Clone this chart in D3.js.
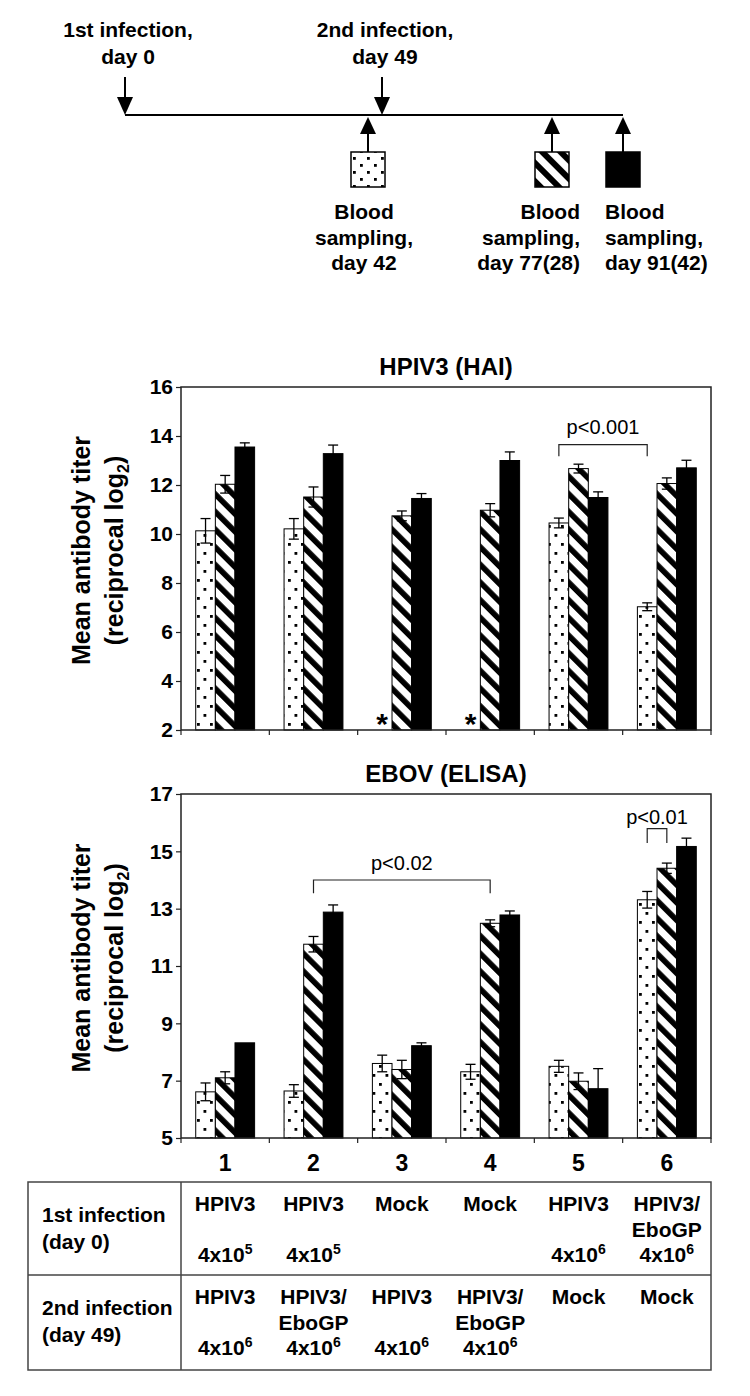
<!DOCTYPE html>
<html><head><meta charset="utf-8">
<script src="https://cdn.jsdelivr.net/npm/d3@7"></script>
<style>
body{margin:0;background:#fff}
svg{display:block;font-family:"Liberation Sans",Arial,Helvetica,sans-serif}
</style>
</head><body>
<svg id="c" width="750" height="1396"></svg>
<script>
// ---------- DATA ----------
const groups = ["1","2","3","4","5","6"];
const seriesNames = ["day 42","day 77(28)","day 91(42)"];

// HPIV3 (HAI)
const hpivDay42 = [10.13, 10.21, null, null, 10.45, 7.03];
const hpivDay42Err = [0.50, 0.42, null, null, 0.20, 0.16];
const hpivDay77 = [12.03, 11.51, 10.74, 10.97, 12.67, 12.06];
const hpivDay77Err = [0.36, 0.41, 0.20, 0.27, 0.18, 0.23];
const hpivDay91 = [13.55, 13.28, 11.45, 13.00, 11.49, 12.70];
const hpivDay91Err = [0.17, 0.35, 0.20, 0.35, 0.23, 0.31];
const hpivTicks = [2,4,6,8,10,12,14,16];

// EBOV (ELISA)
const eboDay42 = [6.61, 6.64, 7.60, 7.31, 7.50, 13.31];
const eboDay42Err = [0.31, 0.22, 0.29, 0.26, 0.21, 0.29];
const eboDay77 = [7.10, 11.76, 7.39, 12.49, 6.98, 14.41];
const eboDay77Err = [0.21, 0.27, 0.32, 0.12, 0.29, 0.18];
const eboDay91 = [8.32, 12.88, 8.22, 12.78, 6.72, 15.17];
const eboDay91Err = [0, 0.25, 0.10, 0.14, 0.70, 0.29];
const eboTicks = [5,7,9,11,13,15,17];

// significance brackets: [fromGroup, fromSeries, toGroup, toSeries, level, legEnd, labelLevel, label]
const hpivBrackets = [["5",0,"6",0,13.65,13.17,14.37,"p<0.001"]];
const eboBrackets = [["2",1,"4",1,14.0,13.54,14.6,"p<0.02"],["6",0,"6",1,15.79,15.29,16.2,"p<0.01"]];

// table
const firstInfVirus = [["HPIV3"],["HPIV3"],["Mock"],["Mock"],["HPIV3"],["HPIV3/","EboGP"]];
const firstInfExp = ["5","5",null,null,"6","6"];
const secondInfVirus = [["HPIV3"],["HPIV3/","EboGP"],["HPIV3"],["HPIV3/","EboGP"],["Mock"],["Mock"]];
const secondInfExp = ["6","6","6","6",null,null];
const rowLabels = [["1st infection","(day 0)"],["2nd infection","(day 49)"]];

// timeline
const infectionDays = [0, 49];
const infectionLabels = [["1st infection,","day 0"],["2nd infection,","day 49"]];
const samplingDays = [42, 77, 91];
const samplingLabels = [["Blood","sampling,","day 42"],["Blood","sampling,","day 77(28)"],["Blood","sampling,","day 91(42)"]];

// ---------- DRAW ----------
const svg = d3.select("#c");
const defs = svg.append("defs");

function dotPattern(id, w, h, pts, s){
  const p = defs.append("pattern").attr("id", id).attr("patternUnits","userSpaceOnUse")
    .attr("width", w).attr("height", h);
  p.append("rect").attr("width", w).attr("height", h).attr("fill","#fff");
  pts.forEach(d => p.append("rect").attr("x", d[0]).attr("y", d[1]).attr("width", s).attr("height", s).attr("fill","#000"));
}
function hatchPattern(id, w, bw){
  const p = defs.append("pattern").attr("id", id).attr("patternUnits","userSpaceOnUse")
    .attr("width", w).attr("height", w).attr("patternTransform","rotate(-45)");
  p.append("rect").attr("width", w).attr("height", w).attr("fill","#fff");
  p.append("rect").attr("width", bw).attr("height", w).attr("fill","#000");
}
dotPattern("dots", 13, 18, [[2,3],[8.5,12]], 2.8);
dotPattern("dotsBig", 14, 14, [[3,3],[10,10]], 2.8);
hatchPattern("hatch", 12.5, 5.6);
hatchPattern("hatchBig", 13, 6);
const fills = ["url(#dots)","url(#hatch)","#000"];
const fillsBig = ["url(#dotsBig)","url(#hatchBig)","#000"];

// --- timeline ---
const tx = d3.scaleLinear().domain([0,42,49,77,91]).range([125,368,382,552,623]);
const lineY = 115;
svg.append("line").attr("x1", tx(0)).attr("x2", tx(91)).attr("y1", lineY).attr("y2", lineY)
  .attr("stroke","#000").attr("stroke-width",2);
infectionDays.forEach((d,i) => {
  const x = tx(d);
  svg.append("line").attr("x1",x).attr("x2",x).attr("y1",77).attr("y2",99).attr("stroke","#000").attr("stroke-width",2);
  svg.append("path").attr("d",`M${x-8},97 L${x+8},97 L${x},${lineY} Z`).attr("fill","#000");
  infectionLabels[i].forEach((t,j) => svg.append("text").attr("x", x+3).attr("y", 37 + j*27)
    .attr("text-anchor","middle").attr("font-size",21).attr("font-weight","bold").text(t));
});
samplingDays.forEach((d,i) => {
  const x = tx(d);
  svg.append("path").attr("d",`M${x-8},134 L${x+8},134 L${x},${lineY+2} Z`).attr("fill","#000");
  svg.append("line").attr("x1",x).attr("x2",x).attr("y1",132).attr("y2",152).attr("stroke","#000").attr("stroke-width",2);
  svg.append("rect").attr("x", x-17).attr("y",152).attr("width",34).attr("height",35)
    .attr("fill", fillsBig[i]).attr("stroke","#000").attr("stroke-width",1.5);
  const anchor = i===0 ? "middle" : (i===1 ? "end" : "start");
  const ax = i===0 ? x-4 : (i===1 ? x+28 : x-18);
  samplingLabels[i].forEach((t,j) => svg.append("text").attr("x", ax).attr("y", 219 + j*25.5)
    .attr("text-anchor", anchor).attr("font-size",21).attr("font-weight","bold").text(t));
});

// --- bar charts ---
const left = 181, right = 711;
const x0 = d3.scaleBand().domain(groups).range([left,right]).paddingInner(1/3).paddingOuter(1/6);
const x1 = d3.scaleBand().domain(seriesNames).range([0, x0.bandwidth()]);

function drawChart(cfg){
  const g = svg.append("g");
  const y = d3.scaleLinear().domain(cfg.domain).range([cfg.bottom, cfg.top]);
  g.append("text").attr("x",(left+right)/2).attr("y",cfg.top-12).attr("text-anchor","middle")
    .attr("font-size",24).attr("font-weight","bold").text(cfg.title);
  cfg.series.forEach((arr, si) => {
    arr.forEach((v, gi) => {
      const bx = x0(groups[gi]) + x1(seriesNames[si]);
      if (v == null) {
        g.append("text").attr("x", bx + x1.bandwidth()/2).attr("y", cfg.bottom + 4)
          .attr("text-anchor","middle").attr("font-size",30).attr("font-weight","bold").text("*");
        return;
      }
      g.append("rect").attr("x", bx).attr("y", y(v)).attr("width", x1.bandwidth())
        .attr("height", cfg.bottom - y(v)).attr("fill", fills[si]).attr("stroke","#000").attr("stroke-width",1);
    });
  });
  cfg.series.forEach((arr, si) => {
    arr.forEach((v, gi) => {
      const e = cfg.errs[si][gi];
      if (v == null || !e) return;
      const cx = x0(groups[gi]) + x1(seriesNames[si]) + x1.bandwidth()/2;
      g.append("line").attr("x1",cx).attr("x2",cx).attr("y1",y(v-e)).attr("y2",y(v+e)).attr("stroke","#000").attr("stroke-width",1.3);
      [v-e, v+e].forEach(w => g.append("line").attr("x1",cx-5).attr("x2",cx+5).attr("y1",y(w)).attr("y2",y(w)).attr("stroke","#000").attr("stroke-width",1.3));
    });
  });
  g.append("rect").attr("x",left).attr("y",cfg.top).attr("width",right-left).attr("height",cfg.bottom-cfg.top)
    .attr("fill","none").attr("stroke","#222").attr("stroke-width",1.5);
  const ax = g.append("g").attr("transform",`translate(${left},0)`)
    .call(d3.axisLeft(y).tickValues(cfg.ticks).tickSize(5).tickPadding(3).tickFormat(d3.format("d")));
  ax.select(".domain").remove();
  ax.selectAll(".tick line").attr("stroke","#222").attr("stroke-width",1.2);
  ax.selectAll(".tick text").attr("font-size",21).attr("font-weight","bold").attr("fill","#000")
    .attr("font-family",'"Liberation Sans",Arial,sans-serif');
  const gap = (x0.step() - x0.bandwidth())/2;
  const bounds = groups.map(d => x0(d) - gap).concat([right]);
  bounds.forEach(b => g.append("line").attr("x1",b).attr("x2",b).attr("y1",cfg.bottom).attr("y2",cfg.bottom+5)
    .attr("stroke","#222").attr("stroke-width",1.2));
  if (cfg.xLabels) {
    groups.forEach(d => g.append("text").attr("x", x0(d)+x0.bandwidth()/2).attr("y", cfg.bottom+33)
      .attr("text-anchor","middle").attr("font-size",23).attr("font-weight","bold").text(d));
  }
  const cy = (cfg.top+cfg.bottom)/2 - 8;
  g.append("text").attr("transform",`translate(90,${cy}) rotate(-90)`).attr("text-anchor","middle")
    .attr("font-size",25).attr("font-weight","bold").text("Mean antibody titer");
  const t2 = g.append("text").attr("transform",`translate(123,${cy}) rotate(-90)`).attr("text-anchor","middle")
    .attr("font-size",25).attr("font-weight","bold");
  t2.append("tspan").text("(reciprocal log");
  t2.append("tspan").attr("font-size",16).attr("dy",6).text("2");
  t2.append("tspan").attr("dy",-6).text(")");
  cfg.brackets.forEach(b => {
    const xa = x0(b[0]) + x1(seriesNames[b[1]]) + x1.bandwidth()/2;
    const xb = x0(b[2]) + x1(seriesNames[b[3]]) + x1.bandwidth()/2;
    g.append("path").attr("d",`M${xa},${y(b[5])} L${xa},${y(b[4])} L${xb},${y(b[4])} L${xb},${y(b[5])}`)
      .attr("fill","none").attr("stroke","#222").attr("stroke-width",1.2);
    g.append("text").attr("x",(xa+xb)/2).attr("y",y(b[6])+7).attr("text-anchor","middle")
      .attr("font-size",20).text(b[7]);
  });
}

drawChart({title:"HPIV3 (HAI)", top:387, bottom:730, domain:[2,16], ticks:hpivTicks,
  series:[hpivDay42,hpivDay77,hpivDay91], errs:[hpivDay42Err,hpivDay77Err,hpivDay91Err],
  brackets:hpivBrackets, xLabels:false});
drawChart({title:"EBOV (ELISA)", top:794, bottom:1138, domain:[5,17], ticks:eboTicks,
  series:[eboDay42,eboDay77,eboDay91], errs:[eboDay42Err,eboDay77Err,eboDay91Err],
  brackets:eboBrackets, xLabels:true});

// --- table ---
const tTop = 1182, tMid = 1275, tBot = 1370, tLeft = 28, tDiv = 181;
const tg = svg.append("g");
tg.append("rect").attr("x",tLeft).attr("y",tTop).attr("width",right-tLeft).attr("height",tBot-tTop)
  .attr("fill","none").attr("stroke","#444").attr("stroke-width",1.5);
tg.append("line").attr("x1",tLeft).attr("x2",right).attr("y1",tMid).attr("y2",tMid).attr("stroke","#444").attr("stroke-width",1.5);
tg.append("line").attr("x1",tDiv).attr("x2",tDiv).attr("y1",tTop).attr("y2",tBot).attr("stroke","#444").attr("stroke-width",1.5);
[tTop, tMid].forEach((rt, ri) => {
  rowLabels[ri].forEach((t,j) => tg.append("text").attr("x",42).attr("y", rt + 40 + j*27)
    .attr("font-size",21).attr("font-weight","bold").text(t));
  const viruses = ri===0 ? firstInfVirus : secondInfVirus;
  const exps = ri===0 ? firstInfExp : secondInfExp;
  groups.forEach((d, gi) => {
    const cx = x0(d) + x0.bandwidth()/2;
    viruses[gi].forEach((t,j) => tg.append("text").attr("x",cx).attr("y", rt + 29 + j*26)
      .attr("text-anchor","middle").attr("font-size",21).attr("font-weight","bold").text(t));
    if (exps[gi]) {
      const tt = tg.append("text").attr("x",cx).attr("y", rt + 80).attr("text-anchor","middle")
        .attr("font-size",21).attr("font-weight","bold");
      tt.append("tspan").text("4x10");
      tt.append("tspan").attr("font-size",14).attr("dy",-8).text(exps[gi]);
    }
  });
});
</script>
</body></html>
